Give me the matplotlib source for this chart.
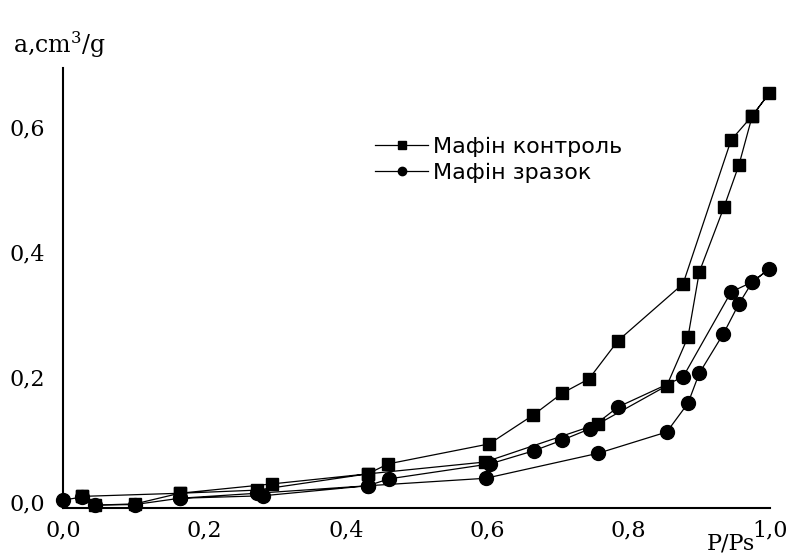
import matplotlib
matplotlib.use("Agg")
import matplotlib.pyplot as plt

# Мафін контроль: adsorption up to P/Ps=1, then desorption back
control_x = [0.027, 0.045, 0.102, 0.165, 0.274, 0.431, 0.597, 0.757, 0.854, 0.884,
             0.900, 0.935, 0.956, 0.975, 0.999, 0.975, 0.945, 0.877, 0.785, 0.744,
             0.706, 0.665, 0.603, 0.460, 0.431, 0.296, 0.165, 0.027]
control_y = [0.009, -0.005, -0.003, 0.014, 0.019, 0.045, 0.064, 0.125, 0.186, 0.264,
             0.368, 0.472, 0.539, 0.618, 0.654, 0.618, 0.579, 0.349, 0.258, 0.197,
             0.174, 0.139, 0.093, 0.061, 0.045, 0.029, 0.014, 0.009]

# Мафін зразок
sample_x = [0.0, 0.027, 0.045, 0.102, 0.165, 0.283, 0.431, 0.598, 0.757, 0.854,
            0.884, 0.900, 0.934, 0.956, 0.975, 0.999, 0.975, 0.945, 0.877, 0.785,
            0.745, 0.706, 0.666, 0.604, 0.461, 0.431, 0.274, 0.165]
sample_y = [0.003, 0.008, -0.005, -0.004, 0.006, 0.010, 0.026, 0.038, 0.078, 0.112,
            0.158, 0.206, 0.269, 0.317, 0.352, 0.373, 0.352, 0.336, 0.200, 0.152,
            0.117, 0.099, 0.082, 0.061, 0.037, 0.026, 0.014, 0.006]

x_ticks = [0.0, 0.2, 0.4, 0.6, 0.8, 1.0]
x_labels = ["0,0", "0,2", "0,4", "0,6", "0,8", "1,0"]
y_ticks = [0.0, 0.2, 0.4, 0.6]
y_labels = ["0,0", "0,2", "0,4", "0,6"]

fig = plt.figure(figsize=(7.9, 5.54), dpi=100)
ax = fig.add_axes([0.0797, 0.083, 0.895, 0.794])

ax.plot(control_x, control_y, color="black", lw=0.9, marker="s", ms=9,
        label="Мафін контроль", clip_on=False)
ax.plot(sample_x, sample_y, color="black", lw=0.9, marker="o", ms=10,
        label="Мафін зразок", clip_on=False)

ax.set_xlim(0, 1.0)
ax.set_ylim(-0.0096, 0.694)
ax.spines["top"].set_visible(False)
ax.spines["right"].set_visible(False)
ax.spines["left"].set_linewidth(1.5)
ax.spines["bottom"].set_linewidth(1.5)

ax.set_xticks(x_ticks)
ax.set_xticklabels(x_labels, family="DejaVu Serif", fontsize=16)
ax.set_yticks(y_ticks)
ax.set_yticklabels(y_labels, family="DejaVu Serif", fontsize=16)
ax.tick_params(axis="x", length=0, pad=8)
ax.tick_params(axis="y", length=0, pad=13)

ax.text(0.979, -0.055, "P/Ps", transform=ax.transAxes, ha="right", va="top",
        family="DejaVu Serif", fontsize=16, clip_on=False)
fig.text(0.016, 0.905, "a,cm$^3$/g", family="DejaVu Serif", fontsize=17,
         math_fontfamily="dejavuserif")

leg = ax.legend(loc="upper left", bbox_to_anchor=(0.4747, 0.753),
                bbox_transform=fig.transFigure, frameon=False,
                borderpad=0, borderaxespad=0,
                handlelength=2.4, handletextpad=0.2, labelspacing=0.27,
                prop={"family": "DejaVu Sans", "size": 16}, markerscale=0.6)

fig.savefig("out.png", dpi=100)
